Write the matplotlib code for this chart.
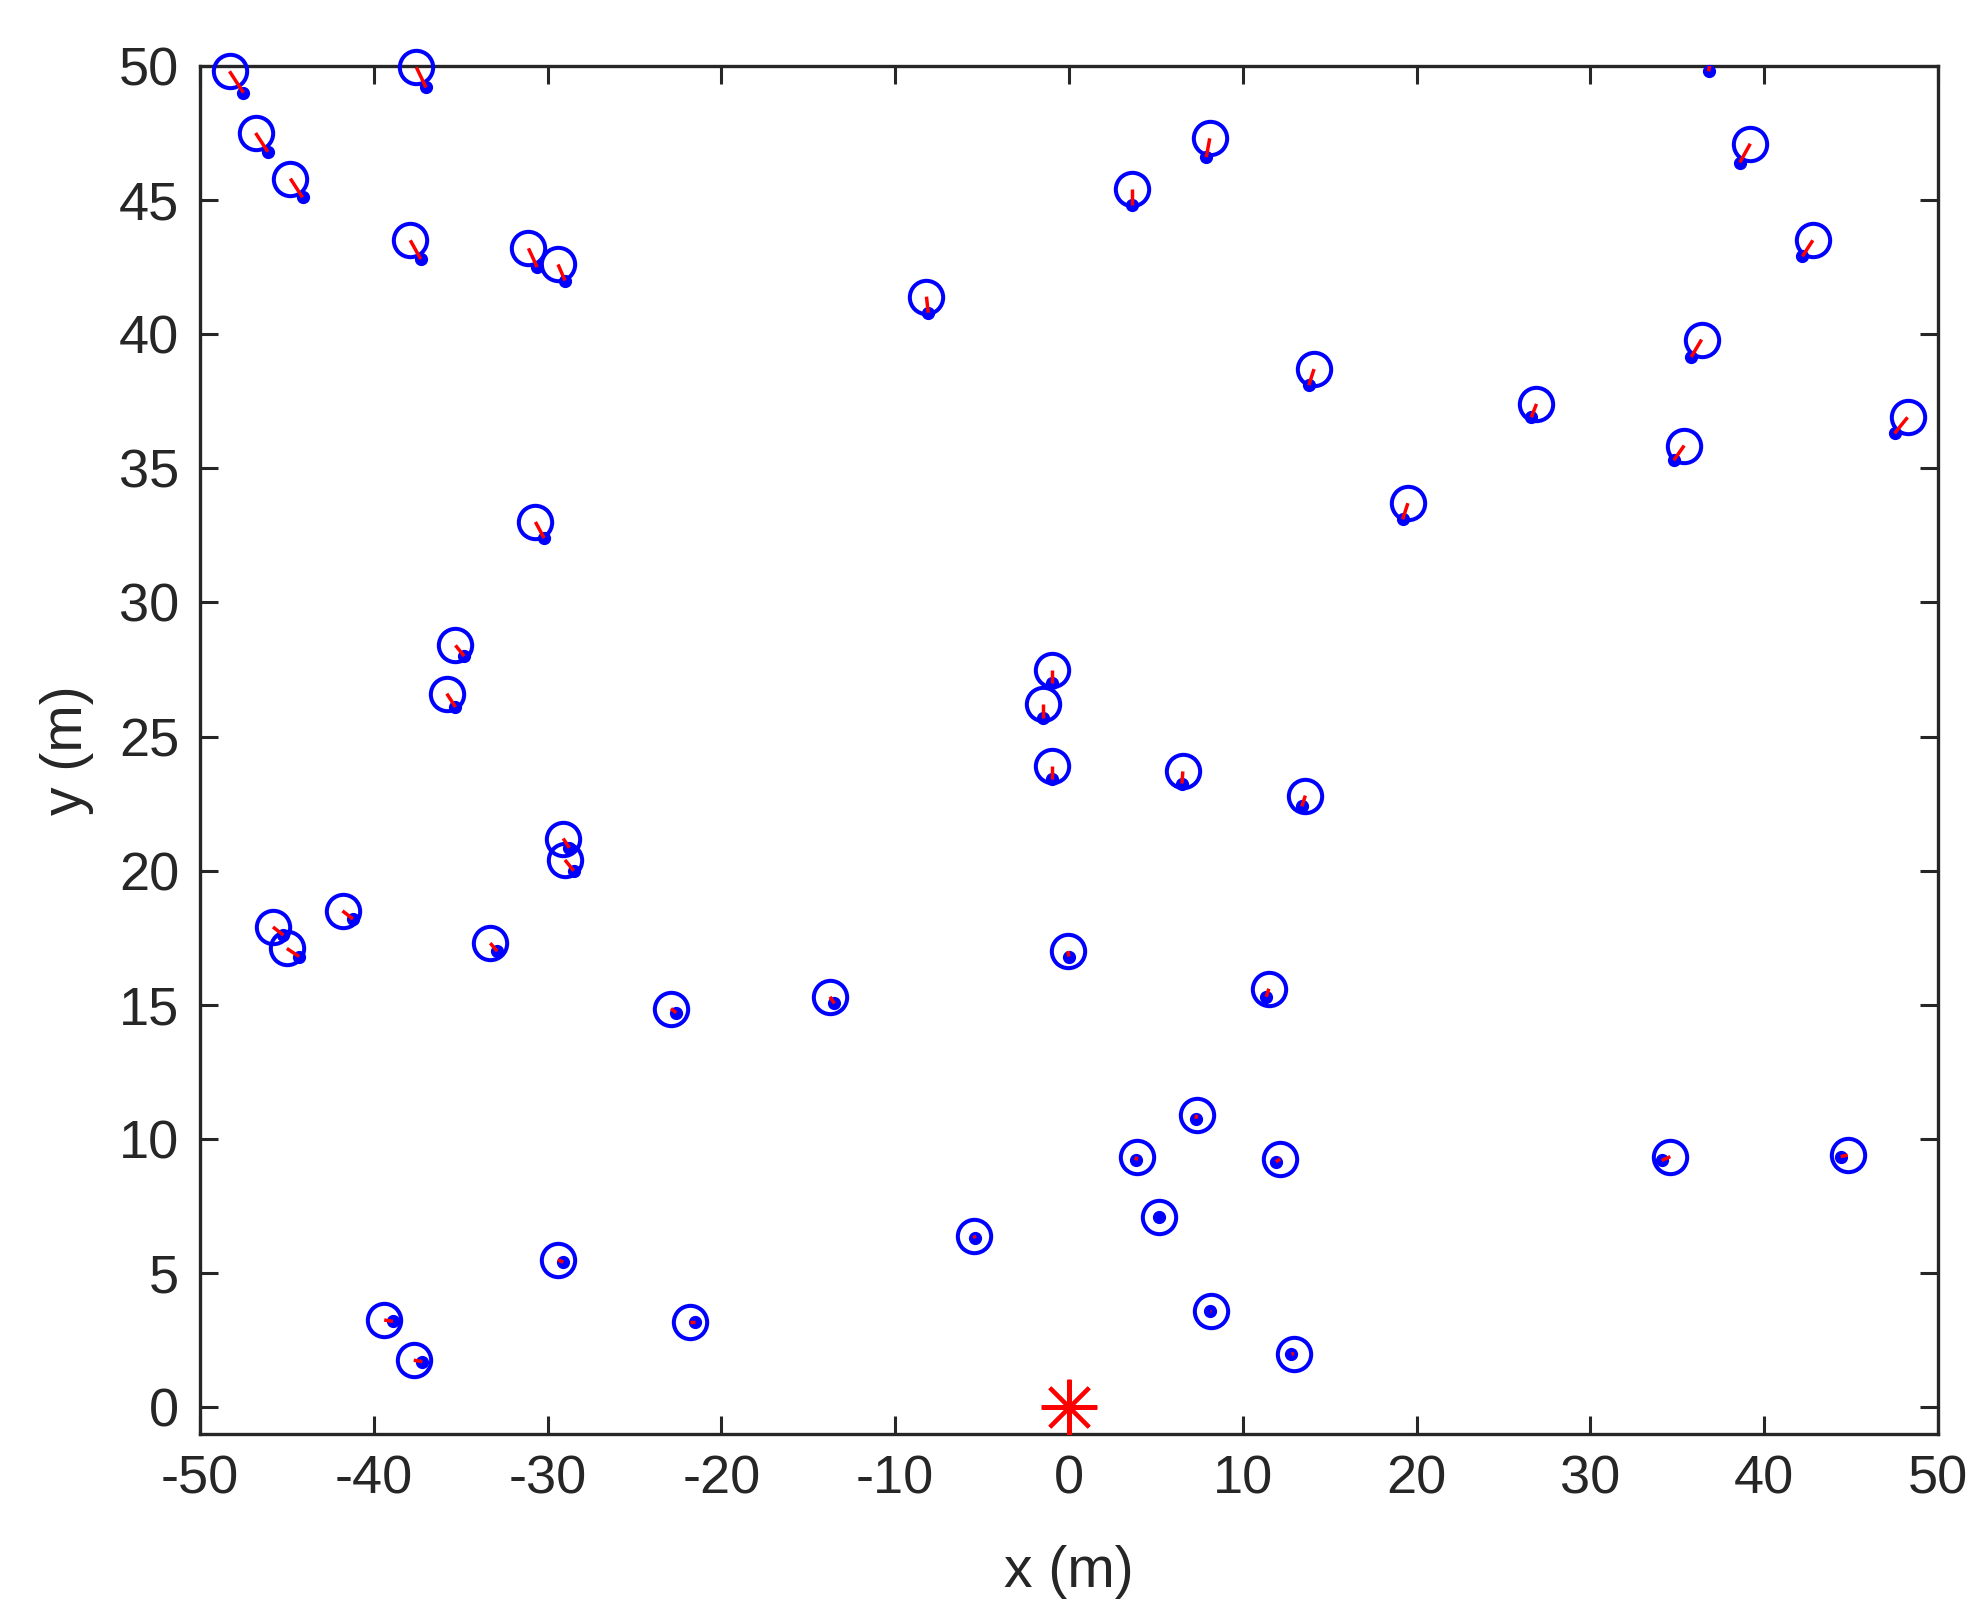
import numpy as np
import matplotlib
matplotlib.use("Agg")
import matplotlib.pyplot as plt

# true positions (circles)
true_x = [-48.3, -37.55, -46.8, -44.8, -37.9, -31.1, -29.4, -8.2, 3.6, 8.1,
          37.0, 39.2, 42.8, 36.4, 48.25, 35.4, 26.9, 14.1, 19.5, -30.7,
          -35.3, -35.8, -0.95, -1.5, -1.0, 6.55, 13.6, -29.1, -29.0, -41.8,
          -45.8, -45.0, -33.3, -22.9, -13.75, -0.07, 11.5, 7.35, 3.9, 12.15,
          34.6, 44.8, 5.2, -5.46, -29.4, 8.15, -39.4, -21.8, -37.7, 12.95]
true_y = [49.8, 49.95, 47.5, 45.8, 43.5, 43.2, 42.6, 41.4, 45.4, 47.3,
          50.5, 47.1, 43.5, 39.8, 36.9, 35.85, 37.4, 38.7, 33.7, 33.0,
          28.4, 26.6, 27.5, 26.2, 23.9, 23.7, 22.8, 21.2, 20.4, 18.5,
          17.9, 17.1, 17.3, 14.86, 15.3, 17.0, 15.6, 10.9, 9.34, 9.25,
          9.34, 9.4, 7.1, 6.4, 5.5, 3.6, 3.25, 3.16, 1.75, 2.0]
# estimated positions (dots)
est_x = [-47.5, -37.0, -46.1, -44.1, -37.3, -30.6, -29.0, -8.1, 3.6, 7.9,
         36.8, 38.6, 42.2, 35.8, 47.5, 34.8, 26.6, 13.8, 19.2, -30.2,
         -34.8, -35.3, -0.95, -1.5, -1.0, 6.5, 13.4, -28.75, -28.5, -41.2,
         -45.2, -44.3, -32.9, -22.6, -13.5, 0.0, 11.35, 7.3, 3.85, 11.9,
         34.1, 44.4, 5.2, -5.4, -29.1, 8.1, -38.9, -21.5, -37.2, 12.8]
est_y = [49.0, 49.2, 46.8, 45.1, 42.8, 42.5, 42.0, 40.8, 44.8, 46.6,
         49.8, 46.4, 42.9, 39.15, 36.3, 35.3, 36.9, 38.1, 33.1, 32.4,
         28.0, 26.1, 27.0, 25.7, 23.4, 23.25, 22.4, 20.85, 20.0, 18.2,
         17.6, 16.8, 17.0, 14.7, 15.05, 16.8, 15.3, 10.75, 9.2, 9.15,
         9.2, 9.34, 7.1, 6.3, 5.4, 3.6, 3.2, 3.16, 1.7, 1.98]
anchor_x = [0.0]
anchor_y = [0.0]

xlim = (-50, 50)
ylim = (-1, 50)

plt.rcParams['font.family'] = ['Liberation Sans', 'DejaVu Sans']
plt.rcParams['axes.unicode_minus'] = False
fig = plt.figure(figsize=(19.84, 16.2), dpi=100)
ax = fig.add_axes([0.1008, 0.1148, 0.876, 0.8445])

tx = np.array(true_x); ty = np.array(true_y)
ex = np.array(est_x); ey = np.array(est_y)

# MATLAB does not draw markers whose data lies outside the limits
vis = (tx >= xlim[0]) & (tx <= xlim[1]) & (ty >= ylim[0]) & (ty <= ylim[1])
ax.plot(tx[vis], ty[vis], 'o', ms=24, mfc='none', mec='#0000ff', mew=2.9,
        linestyle='none', zorder=3, clip_on=False)
ax.plot(ex, ey, 'o', ms=8.5, mfc='#0000ff', mec='#0000ff', linestyle='none',
        zorder=4, clip_on=False)
for a, b, c, d in zip(tx, ex, ty, ey):
    ax.plot([a, b], [c, d], '-', color='#ff0000', lw=2.5, zorder=5,
            solid_capstyle='butt')
ax.plot(anchor_x, anchor_y, marker=(8, 2, 0), ms=40, mew=2.9, color='#ff0000',
        linestyle='none', zorder=6)

ax.set_xlim(*xlim)
ax.set_ylim(*ylim)
ax.set_xticks(np.arange(-50, 51, 10))
ax.set_yticks(np.arange(0, 51, 5))
dark = '#262626'
ax.tick_params(direction='in', length=13, width=2.2, colors=dark,
               labelsize=39, top=True, right=True, pad=15)
for s in ax.spines.values():
    s.set_color(dark)
    s.set_linewidth(2.4)
ax.set_xlabel('x (m)', fontsize=41, color=dark, labelpad=29)
ax.set_ylabel('y (m)', fontsize=41, color=dark, labelpad=18)

fig.savefig('out.png', dpi=100)
